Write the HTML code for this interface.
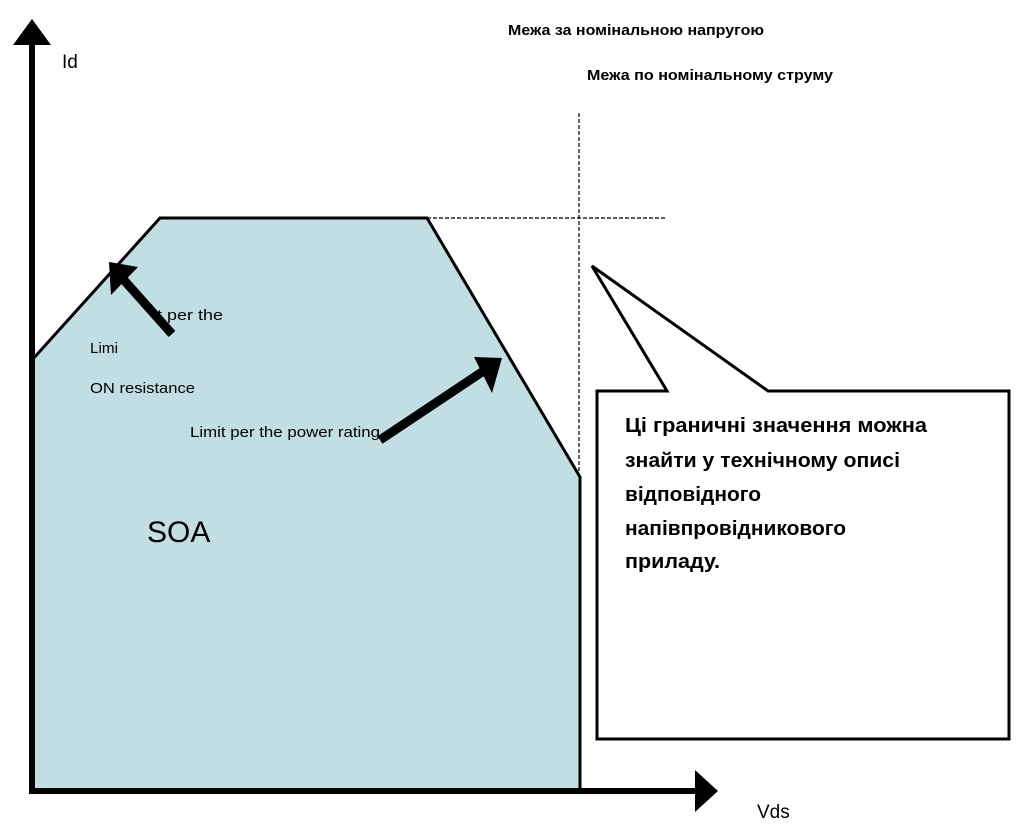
<!DOCTYPE html>
<html><head><meta charset="utf-8"><style>html,body{margin:0;padding:0;background:#fff}svg{display:block}</style></head>
<body>
<svg width="1026" height="828" viewBox="0 0 1026 828" xmlns="http://www.w3.org/2000/svg" font-family="'Liberation Sans', sans-serif">
<polygon points="32,360 160,218 427,218 580,477 580,791 32,791" fill="#c1dfe3"/>
<polyline points="32,360 160,218 427,218 580,477 580,791" fill="none" stroke="#000" stroke-width="3"/>
<line x1="427" y1="218" x2="665" y2="218" stroke="#000" stroke-width="1.2" stroke-dasharray="4,2"/>
<line x1="579" y1="113" x2="579" y2="477" stroke="#000" stroke-width="1.2" stroke-dasharray="4,2"/>
<line x1="32" y1="40" x2="32" y2="794" stroke="#000" stroke-width="6"/>
<polygon points="32,19 13,45 51,45" fill="#000"/>
<line x1="29" y1="791" x2="698" y2="791" stroke="#000" stroke-width="6"/>
<polygon points="718,791 695,770 695,812" fill="#000"/>
<line x1="172" y1="334" x2="123" y2="279" stroke="#000" stroke-width="9"/>
<polygon points="109,262 111,295 138,267" fill="#000"/>
<line x1="380" y1="440" x2="485" y2="370" stroke="#000" stroke-width="9"/>
<polygon points="502,358 474,357 492,393" fill="#000"/>
<polygon points="597,391 667,391 592,266 768,391 1009,391 1009,739 597,739" fill="#fff" stroke="#000" stroke-width="3"/>
<text x="62" y="68" font-size="19">Id</text>
<text x="757" y="818" font-size="19">Vds</text>
<text x="147" y="542" font-size="30">SOA</text>
<g font-size="15">
<text x="157" y="320" textLength="66" lengthAdjust="spacingAndGlyphs">t per the</text>
<text x="90" y="353" textLength="28" lengthAdjust="spacingAndGlyphs">Limi</text>
<text x="90" y="393" textLength="105" lengthAdjust="spacingAndGlyphs">ON resistance</text>
<text x="190" y="437" textLength="190" lengthAdjust="spacingAndGlyphs">Limit per the power rating</text>
</g>
<g font-size="15" font-weight="bold">
<text x="508" y="35" textLength="256" lengthAdjust="spacingAndGlyphs">Межа за номінальною напругою</text>
<text x="587" y="80" textLength="246" lengthAdjust="spacingAndGlyphs">Межа по номінальному струму</text>
</g>
<g font-size="20" font-weight="bold">
<text x="625" y="432" textLength="302" lengthAdjust="spacingAndGlyphs">Ці граничні значення можна</text>
<text x="625" y="467" textLength="275" lengthAdjust="spacingAndGlyphs">знайти у технічному описі</text>
<text x="625" y="501" textLength="136" lengthAdjust="spacingAndGlyphs">відповідного</text>
<text x="625" y="535" textLength="221" lengthAdjust="spacingAndGlyphs">напівпровідникового</text>
<text x="625" y="568" textLength="95" lengthAdjust="spacingAndGlyphs">приладу.</text>
</g>
</svg>
</body></html>
